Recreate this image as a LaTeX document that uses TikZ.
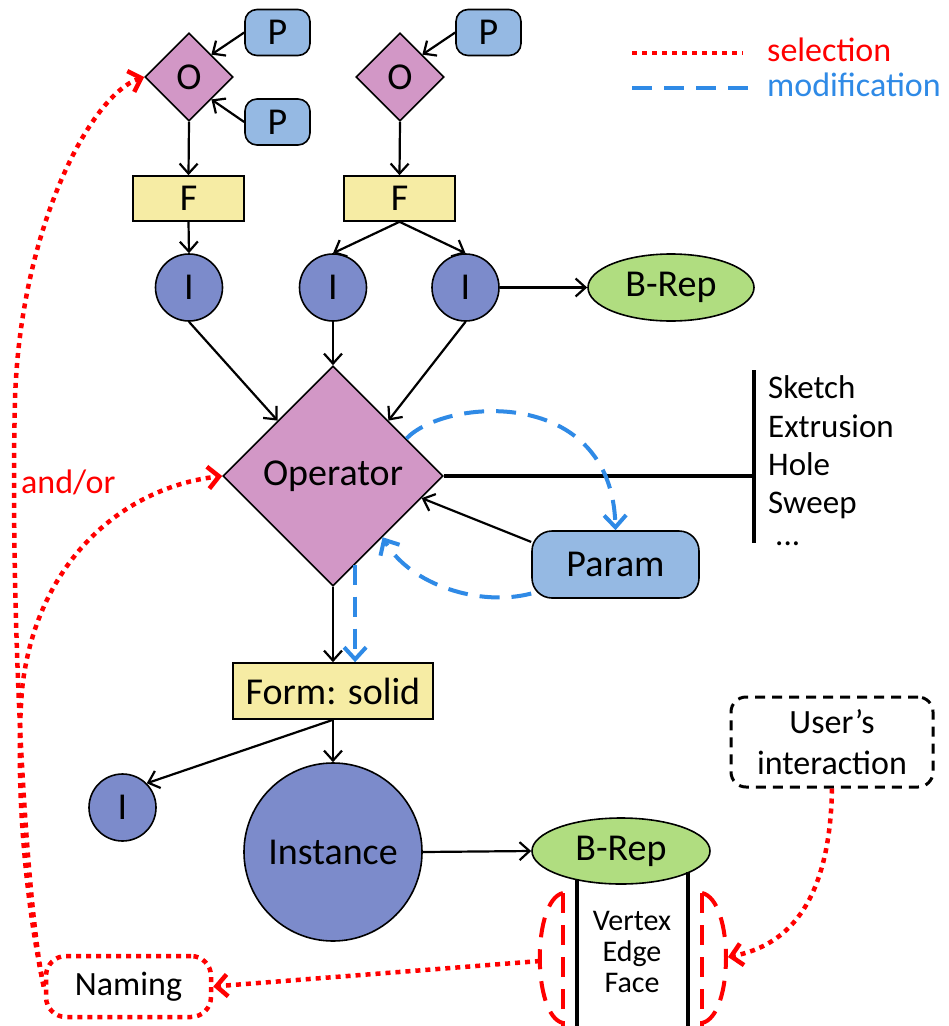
\documentclass[tikz,border=0pt]{standalone}
\usepackage{fontspec}
\setmainfont{Carlito}
\usetikzlibrary{shapes.geometric,arrows.meta,calc}
\definecolor{pblue}{RGB}{149,185,227}
\definecolor{opink}{RGB}{210,151,198}
\definecolor{fyel}{RGB}{246,236,164}
\definecolor{iblue}{RGB}{124,139,203}
\definecolor{bgreen}{RGB}{176,221,128}
\definecolor{selred}{RGB}{255,0,0}
\definecolor{modblue}{RGB}{47,138,230}
\begin{document}
\begin{tikzpicture}[x=1pt,y=-1pt,
 bigf/.style={font=\fontsize{38}{42}\selectfont},
 midf/.style={font=\fontsize{34}{41}\selectfont},
 listf/.style={font=\fontsize{33}{38}\selectfont},
 smallf/.style={font=\fontsize{30}{31}\selectfont},
 base/.style={bigf, inner sep=0pt, line width=1.6pt, draw=black},
 pbox/.style={base, rectangle, rounded corners=12pt, fill=pblue, minimum width=65pt, minimum height=46pt},
 obox/.style={base, diamond, aspect=1, fill=opink, minimum width=88pt, minimum height=88pt},
 fbox/.style={base, rectangle, fill=fyel, minimum width=111pt, minimum height=45pt},
 ibox/.style={base, circle, fill=iblue, minimum size=67pt},
 bbox/.style={base, ellipse, fill=bgreen},
 txt/.style={inner sep=0pt},
 conn/.style={line width=2.2pt, -{Straight Barb[length=10pt,width=18pt]}},
 sel/.style={draw=selred, line width=4.5pt, dash pattern=on 5pt off 5pt},
 selarrow/.style={sel, -{Straight Barb[length=11pt,width=22pt]}},
 selsh/.style={draw=selred, line width=4pt, dash pattern=on 20pt off 12pt},
 mod/.style={draw=modblue, line width=4pt, dash pattern=on 20pt off 12pt},
 modarrow/.style={mod, -{Straight Barb[length=12pt,width=22pt]}},
]
\fill[white] (0,0) rectangle (949,1026);
\useasboundingbox (0,0) rectangle (949,1026);

% top nodes
\node[pbox] (p1) at (277.5,32.5) {P};
\node[obox] (o1) at (189,77) {O};
\node[pbox] (p2) at (277.5,122) {P};
\node[fbox] (f1) at (188.5,198.5) {F};
\node[obox] (o2) at (400,77) {O};
\node[pbox] (p3) at (488.5,32.5) {P};
\node[fbox] (f2) at (399.5,198.5) {F};
\node[ibox] (i1) at (189,287.5) {I};
\node[ibox] (i2) at (333,287.5) {I};
\node[ibox] (i3) at (465.5,287.5) {I};
\node[bbox, minimum width=166pt, minimum height=67pt] (b1) at (671,287.5) {B-Rep};
\node[obox, minimum width=220pt, minimum height=220pt] (op) at (333,476) {Operator};
\node[pbox, rounded corners=20pt, minimum width=167pt, minimum height=67pt] (param) at (615.5,564.5) {Param};
\node[fbox, minimum width=200pt, minimum height=56pt] (form) at (333,691) {Form: solid};
\node[ibox] (is) at (122.5,807.5) {I};
\node[ibox, minimum size=178pt] (inst) at (333,852) {Instance};
\node[bbox, minimum width=178pt, minimum height=66pt] (b2) at (621,851) {B-Rep};

% cylinder sides
\coordinate (cl1) at (577,879);
\coordinate (cl2) at (577,1030);
\coordinate (cr1) at (688,872);
\coordinate (cr2) at (688,1030);
\draw[line width=4pt] (cl1) -- (cl2);
\draw[line width=4pt] (cr1) -- (cr2);
\node[txt, smallf, anchor=base] (vx) at (632,930) {Vertex};
\node[txt, smallf, anchor=base] (ed) at (632,961) {Edge};
\node[txt, smallf, anchor=base] (fa) at (632,992) {Face};

% operator list
\coordinate (bar) at (754,476);
\coordinate (bartop) at (754,370);
\coordinate (barbot) at (754,543);
\draw[line width=4pt] (op.east) -- (bar);
\draw[line width=4pt] (bartop) -- (barbot);
\node[txt, listf, anchor=base west] (l1) at (768,398) {Sketch};
\node[txt, listf, anchor=base west] (l2) at (768,437) {Extrusion};
\node[txt, listf, anchor=base west] (l3) at (768,475) {Hole};
\node[txt, listf, anchor=base west] (l4) at (768,513) {Sweep};
\node[txt, listf, anchor=base west] (l5) at (775,545) {...};

% black connectors
\draw[conn] (p1.west) -- (o1.north east);
\draw[conn] (p2.west) -- (o1.south east);
\draw[conn] (p3.west) -- (o2.north east);
\draw[conn] (o1.south) -- (f1.north);
\draw[conn] (o2.south) -- (f2.north);
\draw[conn] (f1.south) -- (i1.north);
\draw[conn] (f2.south) -- (i2.north);
\draw[conn] (f2.south) -- (i3.north);
\draw[conn] (i3.east) -- (b1.west);
\draw[conn] (i1.south) -- (op.north west);
\draw[conn] (i2.south) -- (op.north);
\draw[conn] (i3.south) -- (op.north east);
\draw[conn] (param.165) -- (op.-14);
\draw[conn] (op.south) -- (form.north);
\draw[conn] (form.south) -- (is.north east);
\draw[conn] (form.south) -- (inst.north);
\draw[conn] (inst.east) -- (b2.west);

% modification (blue)
\draw[modarrow] (op.27) .. controls (445,398) and (612,385) .. (param.north);
\draw[modarrow] (param.199) .. controls (480,607) and (410,585) .. (op.-51);
\draw[modarrow] (op.-76) -- (op.-76 |- form.north);

% selection (red)
\node[midf, draw=selred, line width=4.5pt, dash pattern=on 5pt off 5pt, rounded corners=20pt,
      minimum width=165pt, minimum height=61pt, inner sep=0pt] (naming) at (128.5,986.5) {Naming};
\node[midf, draw=black, line width=3pt, dash pattern=on 10pt off 7pt, rounded corners=15pt,
      minimum width=202pt, minimum height=90pt, inner sep=0pt, align=center] (user) at (832,742) {User’s\\interaction};

\draw[selsh] (563,893) .. controls (532,900) and (532,1016) .. (563,1023);
\draw[selsh] (563,893) -- (563,1030);
\draw[selsh] (702,893) .. controls (734,900) and (734,1016) .. (702,1023);
\draw[selsh] (702,893) -- (702,1030);
\coordinate (lsel) at (540,961);
\coordinate (rsel) at (728,957);

\draw[selarrow] (lsel) -- (naming.east);
\draw[selarrow] (user.south) .. controls (830,900) and (790,945) .. (rsel);
\draw[selarrow] (naming.west) .. controls (25,900) and (10,600) .. (15,400) .. controls (20,230) and (90,95) .. (o1.west);
\draw[selarrow] (naming.west) .. controls (25,900) and (15,780) .. (22,690) .. controls (35,565) and (120,488) .. (op.west);
\node[txt, midf, anchor=base west, text=selred] (andor) at (21,493) {and/or};

% legend
\coordinate (ls1) at (632,53);
\coordinate (ls2) at (743,53);
\coordinate (lm1) at (632,88);
\coordinate (lm2) at (755,88);
\draw[sel] (ls1) -- (ls2);
\draw[mod] (lm1) -- (lm2);
\node[txt, midf, anchor=base west, text=selred] (legsel) at (767,61) {selection};
\node[txt, midf, anchor=base west, text=modblue] (legmod) at (767,96) {modification};
\end{tikzpicture}
\end{document}
